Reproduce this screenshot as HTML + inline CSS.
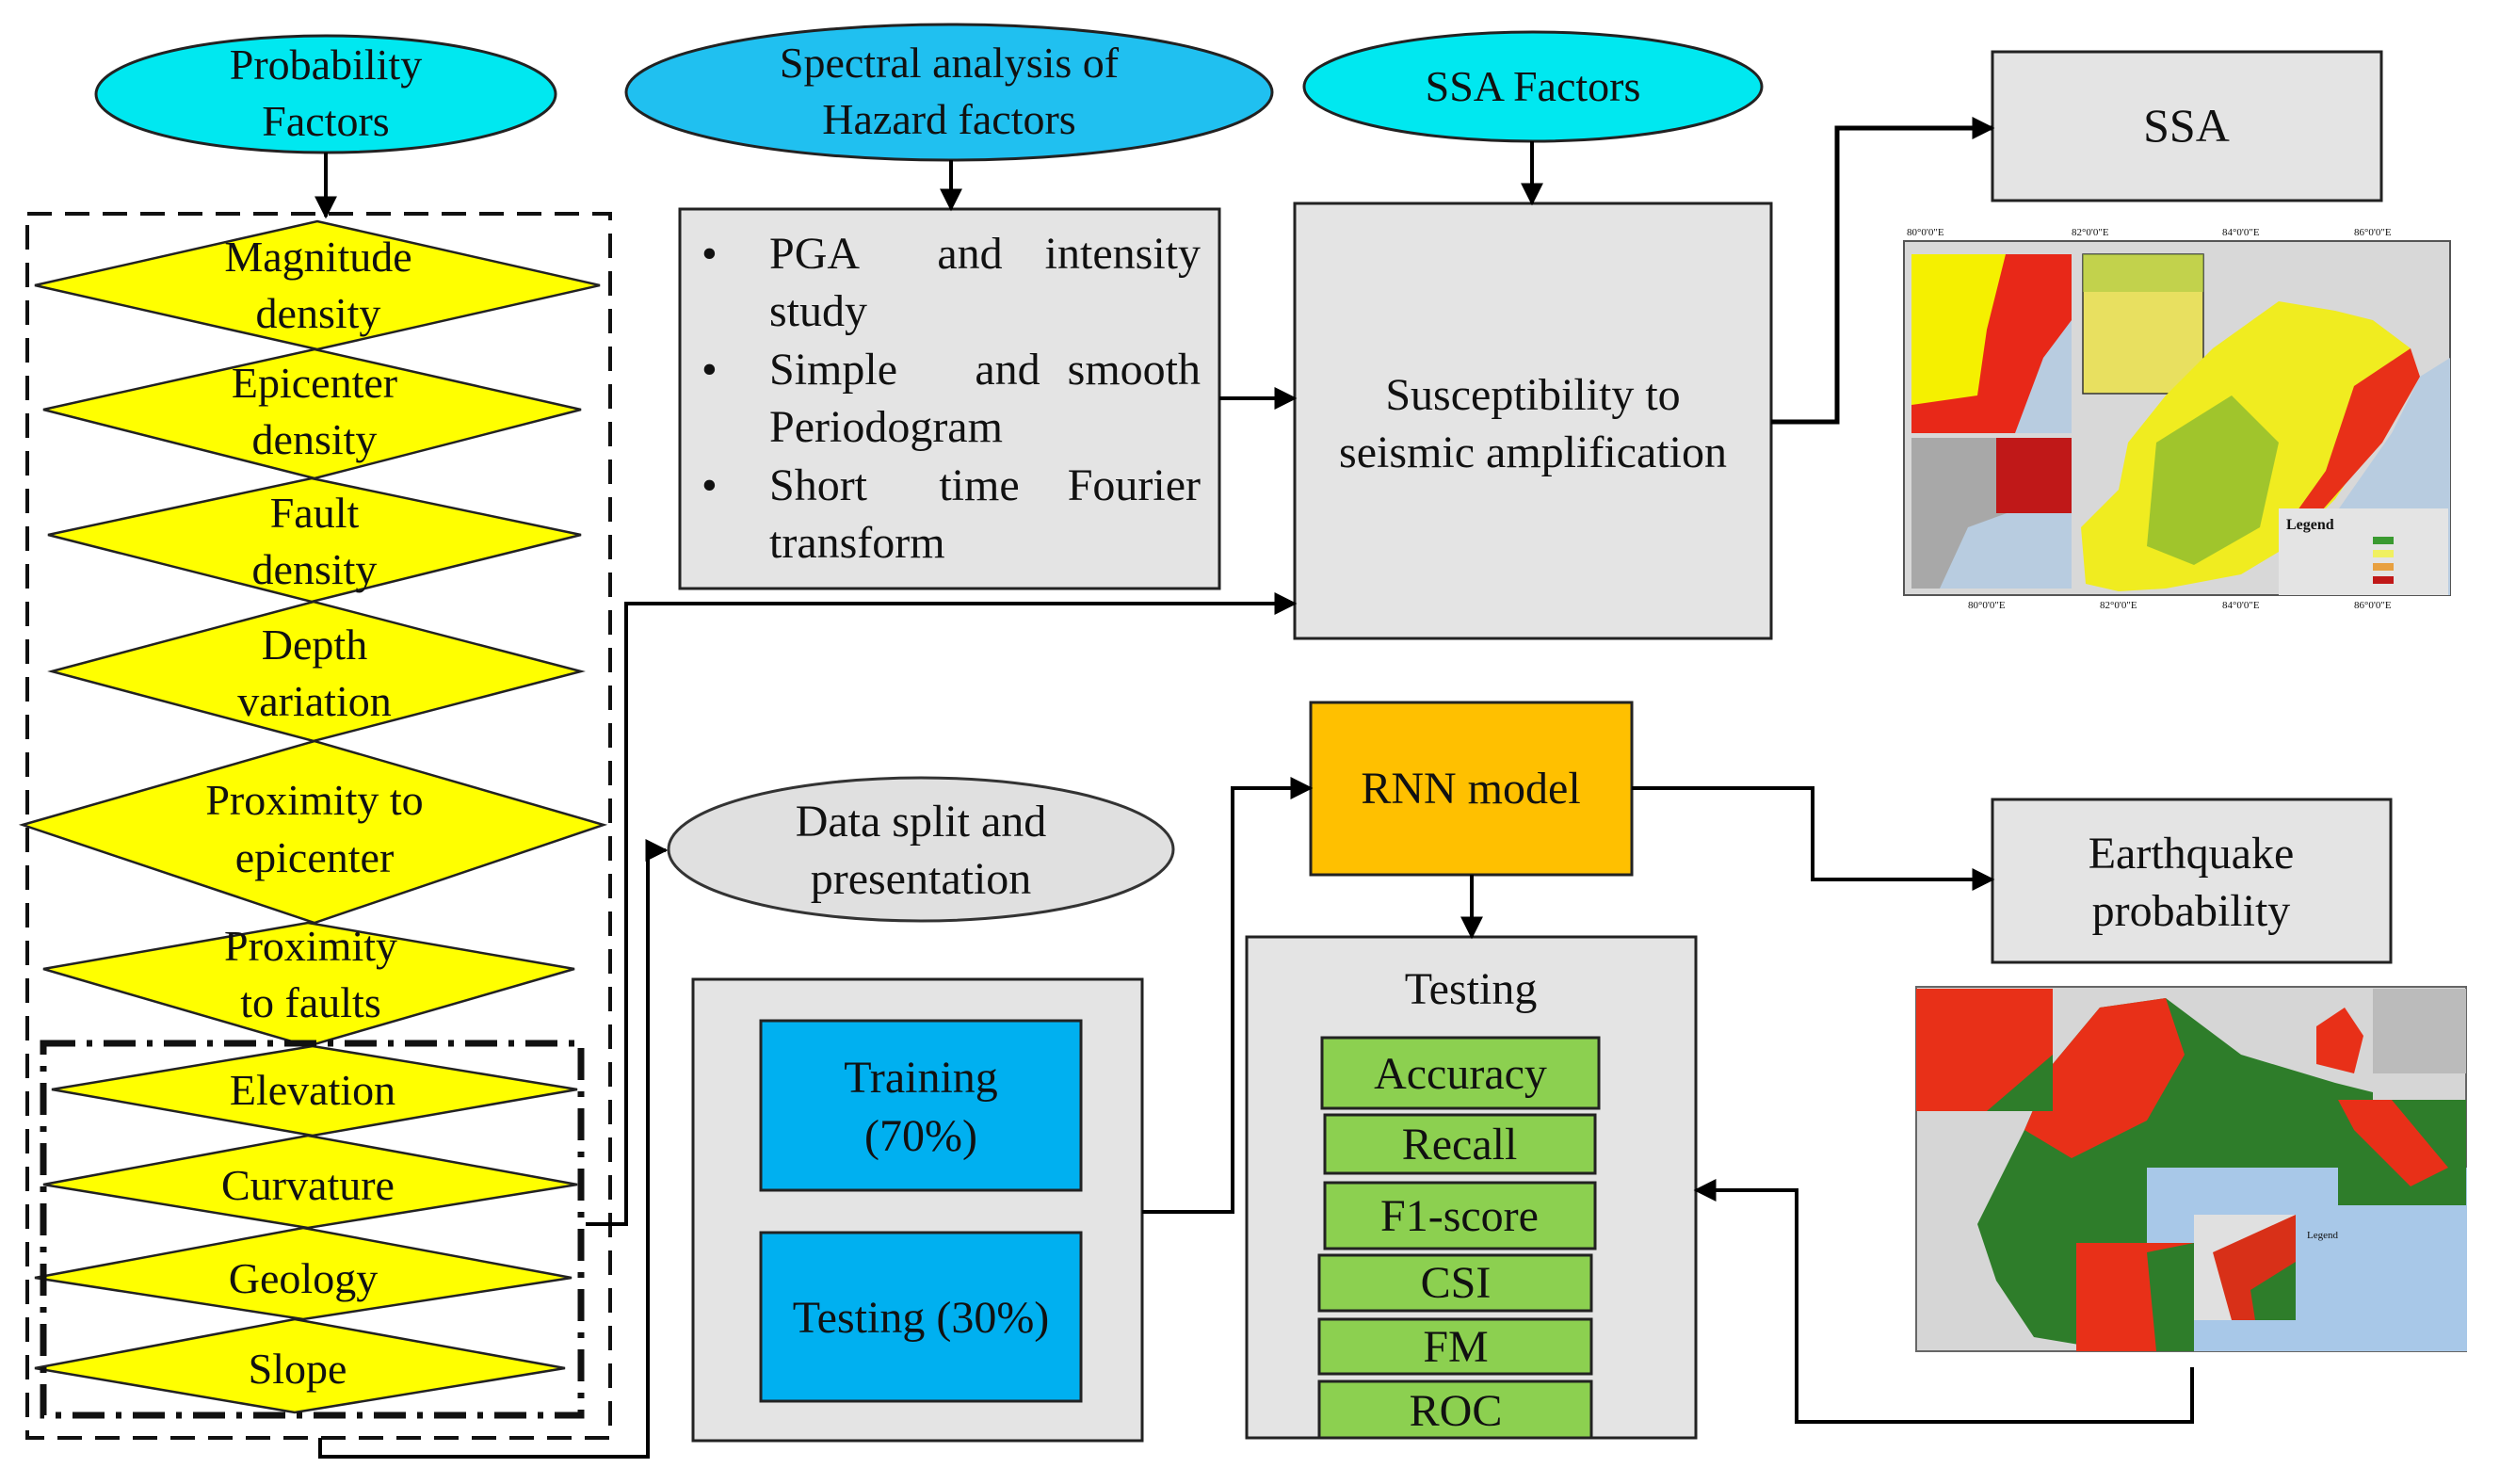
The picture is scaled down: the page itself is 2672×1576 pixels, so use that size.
<!DOCTYPE html>
<html><head><meta charset="utf-8"><style>html,body{margin:0;padding:0;background:#fff}svg{display:block}text{font-family:"Liberation Serif",serif;fill:#111}</style></head><body>
<svg width="2672" height="1576" viewBox="0 0 2672 1576" xmlns="http://www.w3.org/2000/svg">
<defs>
<marker id="b" viewBox="0 0 10 10" refX="9" refY="5" markerWidth="24" markerHeight="24" markerUnits="userSpaceOnUse" orient="auto"><path d="M0,0L10,5L0,10z" fill="#000"/></marker></defs>

<!-- Ellipses -->
<ellipse cx="346" cy="100" rx="244" ry="62" fill="#00e8f0" stroke="#222" stroke-width="3"/>
<text x="346" y="84" font-size="46" text-anchor="middle">Probability</text>
<text x="346" y="144" font-size="46" text-anchor="middle">Factors</text>
<ellipse cx="1008" cy="98" rx="343" ry="72" fill="#20c0f0" stroke="#222" stroke-width="3"/>
<text x="1008" y="82" font-size="46" text-anchor="middle">Spectral analysis of</text>
<text x="1008" y="142" font-size="46" text-anchor="middle">Hazard factors</text>
<ellipse cx="1628" cy="92" rx="243" ry="58" fill="#00e8f0" stroke="#222" stroke-width="3"/>
<text x="1628" y="107" font-size="46" text-anchor="middle">SSA Factors</text>

<!-- Bullet box -->
<rect x="722" y="222" width="573" height="403" fill="#e4e4e4" stroke="#222" stroke-width="3"/>
<g font-size="48">
<text x="745" y="285">•</text><text x="817" y="285">PGA</text><text x="1030" y="285" text-anchor="middle">and</text><text x="1275" y="285" text-anchor="end">intensity</text>
<text x="817" y="346">study</text>
<text x="745" y="408">•</text><text x="817" y="408">Simple</text><text x="1070" y="408" text-anchor="middle">and</text><text x="1275" y="408" text-anchor="end">smooth</text>
<text x="817" y="469">Periodogram</text>
<text x="745" y="531">•</text><text x="817" y="531">Short</text><text x="1040" y="531" text-anchor="middle">time</text><text x="1275" y="531" text-anchor="end">Fourier</text>
<text x="817" y="592">transform</text>
</g>

<!-- Susceptibility box -->
<rect x="1375" y="216" width="506" height="462" fill="#e4e4e4" stroke="#222" stroke-width="3"/>
<text x="1628" y="435" font-size="48" text-anchor="middle">Susceptibility to</text>
<text x="1628" y="496" font-size="48" text-anchor="middle">seismic amplification</text>

<!-- SSA box -->
<rect x="2116" y="55" width="413" height="158" fill="#e4e4e4" stroke="#222" stroke-width="3"/>
<text x="2322" y="150" font-size="50" text-anchor="middle">SSA</text>

<!-- Map 1 -->
<g>
<rect x="2022" y="256" width="580" height="376" fill="#d8d8d8" stroke="#555" stroke-width="2"/>
<rect x="2030" y="270" width="170" height="190" fill="#f5f000"/>
<path d="M2130,270 L2200,270 L2200,370 L2150,460 L2030,460 L2030,430 L2100,420 L2110,350Z" fill="#e82818"/>
<path d="M2170,380 L2200,340 L2200,460 L2140,460Z" fill="#b8cce0"/>
<rect x="2212" y="270" width="128" height="148" fill="#e8e060" stroke="#333" stroke-width="1.5"/>
<rect x="2212" y="270" width="128" height="40" fill="#a8c840" opacity="0.6"/>
<rect x="2030" y="465" width="170" height="160" fill="#a8a8a8"/>
<path d="M2090,560 L2200,520 L2200,625 L2060,625Z" fill="#b8cce0"/>
<rect x="2120" y="465" width="80" height="80" fill="#c01818"/>
<path d="M2210,560 L2250,520 L2260,470 L2300,420 L2350,370 L2420,320 L2480,330 L2520,340 L2560,370 L2550,420 L2520,470 L2480,530 L2430,580 L2380,610 L2300,625 L2250,628 L2215,620Z" fill="#f0ec20"/>
<path d="M2290,470 L2370,420 L2420,470 L2400,560 L2330,600 L2280,580Z" fill="#8cbc30" opacity="0.8"/>
<path d="M2500,410 L2560,370 L2570,400 L2530,470 L2450,560 L2420,570 L2470,500Z" fill="#e83018"/>
<path d="M2570,400 L2602,380 L2602,632 L2430,632 L2470,560 L2540,460Z" fill="#b8cce0"/>
<rect x="2420" y="540" width="180" height="92" fill="#e4e4e4"/>
<text x="2428" y="562" font-size="16" font-weight="bold">Legend</text>
<rect x="2520" y="570" width="22" height="8" fill="#3a9a30"/><rect x="2520" y="584" width="22" height="8" fill="#f0f060"/><rect x="2520" y="598" width="22" height="8" fill="#e8a040"/><rect x="2520" y="612" width="22" height="8" fill="#c01818"/>
<text x="2025" y="250" font-size="11">80°0'0"E</text><text x="2200" y="250" font-size="11">82°0'0"E</text><text x="2360" y="250" font-size="11">84°0'0"E</text><text x="2500" y="250" font-size="11">86°0'0"E</text>
<text x="2090" y="646" font-size="11">80°0'0"E</text><text x="2230" y="646" font-size="11">82°0'0"E</text><text x="2360" y="646" font-size="11">84°0'0"E</text><text x="2500" y="646" font-size="11">86°0'0"E</text>
</g>

<!-- Earthquake probability box -->
<rect x="2116" y="849" width="423" height="173" fill="#e4e4e4" stroke="#222" stroke-width="3"/>
<text x="2327" y="922" font-size="48" text-anchor="middle">Earthquake</text>
<text x="2327" y="983" font-size="48" text-anchor="middle">probability</text>

<!-- Map 2 -->
<g>
<rect x="2035" y="1048" width="584" height="387" fill="#d6d6d6" stroke="#666" stroke-width="2"/>
<path d="M2180,1130 L2230,1070 L2300,1060 L2380,1120 L2480,1150 L2520,1160 L2520,1260 L2470,1300 L2400,1350 L2300,1400 L2220,1430 L2160,1420 L2120,1360 L2100,1300 L2150,1200Z" fill="#2e7d2a"/>
<path d="M2180,1130 L2230,1070 L2300,1060 L2320,1120 L2280,1190 L2200,1230 L2150,1200Z" fill="#e83018"/>
<rect x="2035" y="1050" width="145" height="130" fill="#e83018"/>
<path d="M2110,1180 L2180,1120 L2180,1180Z" fill="#2e7d2a"/>
<rect x="2280" y="1240" width="340" height="195" fill="#a8c8e8"/>
<rect x="2205" y="1320" width="125" height="115" fill="#e83018"/>
<path d="M2280,1330 L2330,1320 L2330,1435 L2290,1435Z" fill="#2e7d2a"/>
<rect x="2330" y="1290" width="108" height="112" fill="#e0e0e0"/>
<path d="M2350,1330 L2438,1290 L2438,1402 L2370,1402Z" fill="#d83018"/>
<path d="M2390,1370 L2438,1340 L2438,1402 L2395,1402Z" fill="#2e7d2a"/>
<rect x="2483" y="1168" width="136" height="112" fill="#2e7d2a"/>
<path d="M2483,1168 L2540,1168 L2600,1240 L2560,1260 L2500,1200Z" fill="#e83018"/>
<path d="M2460,1090 L2490,1070 L2510,1100 L2500,1140 L2460,1130Z" fill="#e83018"/>
<rect x="2520" y="1050" width="99" height="90" fill="#bbb"/>
<text x="2450" y="1315" font-size="11">Legend</text>
</g>

<!-- Dashed outer / dash-dot -->
<rect x="29" y="227" width="619" height="1300" fill="none" stroke="#111" stroke-width="4" stroke-dasharray="26,14"/>

<!-- Diamonds -->
<g fill="#ffff00" stroke="#222" stroke-width="2.5">
<polygon points="37,303 337,235 637,303 337,371"/>
<polygon points="46,435 334,371 617,435 334,508"/>
<polygon points="51,568 331,508 617,568 331,639"/>
<polygon points="55,713 333,639 617,713 333,787"/>
<polygon points="24,876 334,787 641,876 334,980"/>
<polygon points="46,1029 327,980 610,1029 327,1111"/>
<polygon points="55,1157 332,1111 613,1157 332,1206"/>
<polygon points="46,1258 327,1206 613,1258 327,1304"/>
<polygon points="37,1357 322,1304 607,1357 322,1401"/>
<polygon points="37,1453 313,1401 600,1453 313,1500"/>
</g>
<rect x="46" y="1108" width="571" height="395" fill="none" stroke="#111" stroke-width="7" stroke-dasharray="34,12,6,12"/>
<g font-size="46" text-anchor="middle">
<text x="338" y="288">Magnitude</text><text x="338" y="348">density</text>
<text x="334" y="422">Epicenter</text><text x="334" y="482">density</text>
<text x="334" y="560">Fault</text><text x="334" y="620">density</text>
<text x="334" y="700">Depth</text><text x="334" y="760">variation</text>
<text x="334" y="865">Proximity to</text><text x="334" y="926">epicenter</text>
<text x="330" y="1020">Proximity</text><text x="330" y="1080">to faults</text>
<text x="332" y="1173">Elevation</text>
<text x="327" y="1274">Curvature</text>
<text x="322" y="1373">Geology</text>
<text x="316" y="1469">Slope</text>
</g>

<!-- Data split -->
<ellipse cx="978" cy="902" rx="268" ry="76" fill="#e0e0e0" stroke="#333" stroke-width="3"/>
<text x="978" y="888" font-size="48" text-anchor="middle">Data split and</text>
<text x="978" y="949" font-size="48" text-anchor="middle">presentation</text>
<rect x="736" y="1040" width="477" height="490" fill="#e4e4e4" stroke="#222" stroke-width="3"/>
<rect x="808" y="1084" width="340" height="180" fill="#00b0f0" stroke="#222" stroke-width="3"/>
<text x="978" y="1160" font-size="48" text-anchor="middle">Training</text>
<text x="978" y="1222" font-size="48" text-anchor="middle">(70%)</text>
<rect x="808" y="1309" width="340" height="179" fill="#00b0f0" stroke="#222" stroke-width="3"/>
<text x="978" y="1415" font-size="48" text-anchor="middle">Testing (30%)</text>

<!-- RNN -->
<rect x="1392" y="746" width="341" height="183" fill="#ffc000" stroke="#222" stroke-width="3"/>
<text x="1562" y="853" font-size="48" text-anchor="middle">RNN model</text>

<!-- Testing container -->
<rect x="1324" y="995" width="477" height="532" fill="#e4e4e4" stroke="#222" stroke-width="3"/>
<text x="1562" y="1066" font-size="48" text-anchor="middle">Testing</text>
<g fill="#8cd050" stroke="#222" stroke-width="3">
<rect x="1404" y="1102" width="294" height="75"/>
<rect x="1407" y="1184" width="287" height="62"/>
<rect x="1407" y="1256" width="287" height="70"/>
<rect x="1401" y="1333" width="289" height="59"/>
<rect x="1401" y="1401" width="289" height="58"/>
<rect x="1401" y="1467" width="289" height="60"/>
</g>
<g font-size="48" text-anchor="middle">
<text x="1551" y="1156">Accuracy</text>
<text x="1550" y="1231">Recall</text>
<text x="1550" y="1307">F1-score</text>
<text x="1546" y="1378">CSI</text>
<text x="1546" y="1446">FM</text>
<text x="1546" y="1514">ROC</text>
</g>

<!-- Connectors -->
<g stroke="#000" stroke-width="4" fill="none">
<path d="M346,162 V230" marker-end="url(#b)"/>
<path d="M1010,170 V222" marker-end="url(#b)"/>
<path d="M1627,150 V216" marker-end="url(#b)"/>
<path d="M1295,423 H1375" marker-end="url(#b)"/>
<path d="M622,1300 H665 V641 H1375" marker-end="url(#b)"/>
<path d="M340,1527 V1547 H688 V903 H707" marker-end="url(#b)"/>
<path d="M1881,448 H1951 V136 H2116" marker-end="url(#b)" stroke-width="5"/>
<path d="M1213,1287 H1309 V837 H1392" marker-end="url(#b)"/>
<path d="M1733,837 H1925 V934 H2116" marker-end="url(#b)"/>
<path d="M1563,929 V995" marker-end="url(#b)"/>
<path d="M2328,1452 V1510 H1908 V1264 H1801" marker-end="url(#b)"/>
</g>
</svg>
</body></html>
